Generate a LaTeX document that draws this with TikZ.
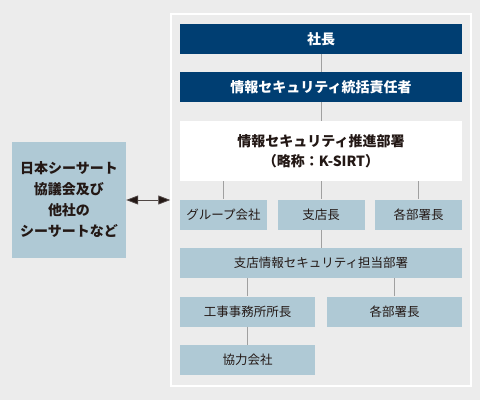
\documentclass[tikz,border=0pt]{standalone}
\usepackage{fontspec}
\setmainfont{Noto Sans CJK JP}
\usetikzlibrary{arrows.meta}
\definecolor{bg}{RGB}{236,236,236}
\definecolor{navy}{RGB}{0,62,114}
\definecolor{pale}{RGB}{175,201,213}
\definecolor{ink}{RGB}{35,24,21}
\definecolor{conn}{RGB}{160,160,160}
\tikzset{
  darkbox/.style={fill=navy,text=white,font=\fontsize{14}{16}\selectfont\bfseries,minimum height=30pt,inner sep=0pt},
  whitebox/.style={fill=white,text=ink,font=\fontsize{14}{19.5}\selectfont\bfseries,align=center,inner sep=0pt},
  palebox/.style={fill=pale,text=ink,font=\fontsize{12.5}{14}\selectfont,minimum height=30pt,inner sep=0pt},
  link/.style={draw=conn,line width=1pt},
}
\begin{document}
\begin{tikzpicture}[x=1pt,y=-1pt]
\fill[bg] (0,0) rectangle (480,400);
\useasboundingbox (0,0) rectangle (480,400);
\node[draw=white,line width=1.5pt,fill=bg,minimum width=300pt,minimum height=372pt,inner sep=0pt] (frame) at (321,200) {};
\node[darkbox,minimum width=282pt] (shacho) at (321,39) {社長};
\node[darkbox,minimum width=282pt] (tokatsu) at (321,87) {情報セキュリティ統括責任者};
\node[whitebox,minimum width=282pt,minimum height=60pt] (ksirt) at (321,151) {情報セキュリティ推進部署\\（略称：K-SIRT）};
\node[palebox,minimum width=87pt] (group) at (223.5,214.5) {グループ会社};
\node[palebox,minimum width=87pt] (shiten) at (321,214.5) {支店長};
\node[palebox,minimum width=87pt] (kakubu) at (418.5,214.5) {各部署長};
\node[palebox,minimum width=282pt] (shitenjoho) at (321,263) {支店情報セキュリティ担当部署};
\node[palebox,minimum width=135pt] (koji) at (247.5,311.5) {工事事務所所長};
\node[palebox,minimum width=135pt] (kakubub) at (394.5,311.5) {各部署長};
\node[palebox,minimum width=135pt] (kyoryoku) at (247.5,360) {協力会社};
\node[fill=pale,text=ink,font=\fontsize{14}{21}\selectfont\bfseries,align=center,minimum width=114pt,minimum height=116pt,inner sep=0pt] (outside) at (69,200) {日本シーサート\\協議会及び\\他社の\\シーサートなど};
\draw[link] (shacho.south) -- (tokatsu.north);
\draw[link] (tokatsu.south) -- (ksirt.north);
\draw[link] (group.north |- ksirt.south) -- (group.north);
\draw[link] (ksirt.south) -- (shiten.north);
\draw[link] (kakubu.north |- ksirt.south) -- (kakubu.north);
\draw[link] (shiten.south) -- (shitenjoho.north);
\draw[link] (koji.north |- shitenjoho.south) -- (koji.north);
\draw[link] (kakubub.north |- shitenjoho.south) -- (kakubub.north);
\draw[link] (koji.south) -- (kyoryoku.north);
\draw[draw=ink!80,line width=0.8pt,{Triangle[length=12pt,width=9pt,fill=ink]}-{Triangle[length=12pt,width=9pt,fill=ink]}] (outside.east) -- (outside.east -| frame.west);
\end{tikzpicture}
\end{document}
